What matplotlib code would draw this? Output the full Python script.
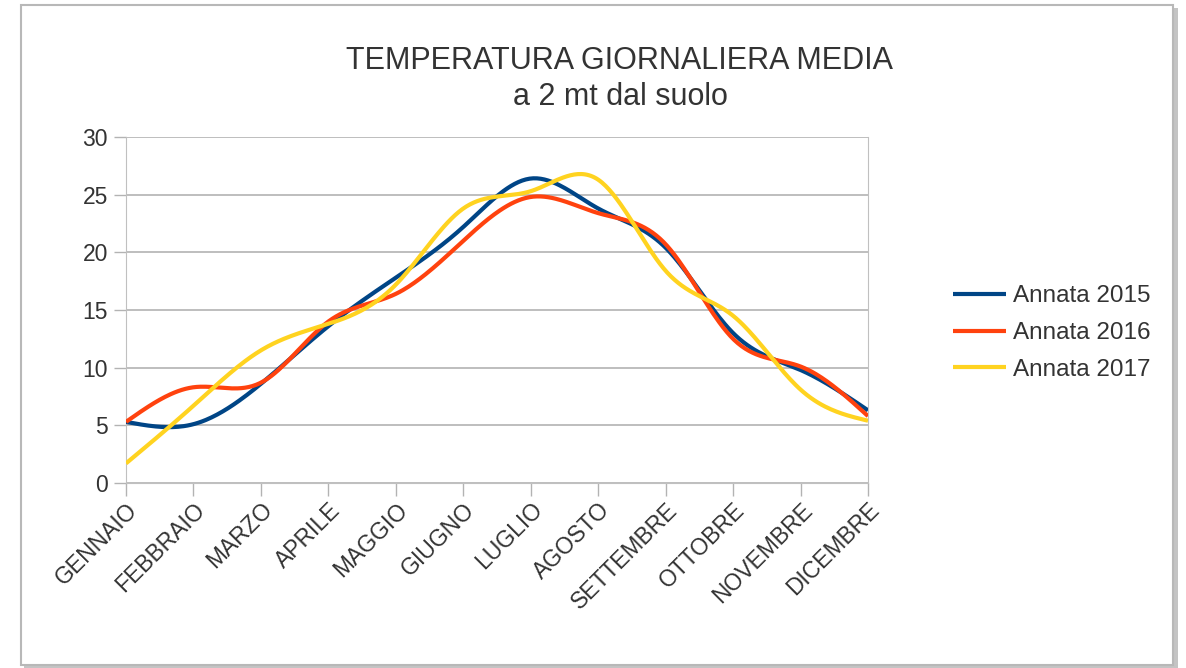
import numpy as np
import matplotlib
matplotlib.use("Agg")
import matplotlib.pyplot as plt
from matplotlib.patches import Rectangle

months = ["GENNAIO", "FEBBRAIO", "MARZO", "APRILE", "MAGGIO", "GIUGNO",
          "LUGLIO", "AGOSTO", "SETTEMBRE", "OTTOBRE", "NOVEMBRE", "DICEMBRE"]
t2015 = [5.3, 5.1, 8.6, 13.6, 17.8, 22.2, 26.4, 23.8, 20.4, 13.0, 9.8, 6.3]
t2016 = [5.3, 8.3, 8.7, 14.0, 16.4, 21.0, 24.8, 23.4, 20.7, 12.5, 10.1, 5.8]
t2017 = [1.7, 6.7, 11.5, 13.8, 17.2, 23.8, 25.3, 26.3, 18.4, 14.5, 8.1, 5.4]
series_names = ["Annata 2015", "Annata 2016", "Annata 2017"]
colors = ["#004586", "#ff420e", "#ffd320"]
yticks = [0, 5, 10, 15, 20, 25, 30]
title = "TEMPERATURA GIORNALIERA MEDIA\na 2 mt dal suolo"


def natural_spline(x, y, n=400):
    x = np.asarray(x, float)
    y = np.asarray(y, float)
    m = len(x)
    h = np.diff(x)
    A = np.zeros((m, m))
    b = np.zeros(m)
    A[0, 0] = 1
    A[-1, -1] = 1
    for i in range(1, m - 1):
        A[i, i - 1] = h[i - 1]
        A[i, i] = 2 * (h[i - 1] + h[i])
        A[i, i + 1] = h[i]
        b[i] = 3 * ((y[i + 1] - y[i]) / h[i] - (y[i] - y[i - 1]) / h[i - 1])
    c = np.linalg.solve(A, b)
    xs = np.linspace(x[0], x[-1], n)
    idx = np.clip(np.searchsorted(x, xs) - 1, 0, m - 2)
    dx = xs - x[idx]
    bb = (y[1:] - y[:-1]) / h - h * (2 * c[:-1] + c[1:]) / 3
    d = (c[1:] - c[:-1]) / (3 * h)
    ys = y[idx] + bb[idx] * dx + c[idx] * dx ** 2 + d[idx] * dx ** 3
    return xs, ys


plt.rcParams['font.family'] = ['Liberation Sans', 'DejaVu Sans']
fig = plt.figure(figsize=(11.86, 6.68), dpi=100)

# outer frame with shadow
fig.patches.append(Rectangle((24 / 1186, 0), 1154 / 1186, 660 / 668,
                             transform=fig.transFigure, facecolor="#c4c4c4",
                             edgecolor="none", zorder=-3))
fig.patches.append(Rectangle((21 / 1186, 3 / 668), 1152 / 1186, 660 / 668,
                             transform=fig.transFigure, facecolor="white",
                             edgecolor="#b8b8b8", linewidth=1.5, zorder=-2))

ax = fig.add_axes([126 / 1186, 1 - 483 / 668, 742 / 1186, 346 / 668])
ax.patch.set_alpha(0)
x = np.arange(len(months))
for vals, name, col in zip([t2015, t2016, t2017], series_names, colors):
    xs, ys = natural_spline(x, vals)
    ax.plot(xs, ys, color=col, lw=3.0, label=name, solid_capstyle="butt", zorder=3)

ax.set_xlim(0, len(months) - 1)
ax.set_ylim(0, 30)
ax.set_yticks(yticks)
ax.set_xticks(x)
ax.set_xticklabels(months, rotation=45, ha="right", va="top",
                   rotation_mode="anchor", fontsize=16.5, color="#333333")
ax.tick_params(axis="y", labelsize=16.5, colors="#b3b3b3", labelcolor="#333333",
               length=9, width=1, pad=4)
ax.tick_params(axis="x", colors="#b3b3b3", labelcolor="#333333", length=9,
               width=1, pad=2)
ax.grid(axis="y", color="#b3b3b3", lw=1.2)
ax.set_axisbelow(True)
for s in ["top"]:
    ax.spines[s].set_visible(False)
for s in ["left", "bottom", "right"]:
    ax.spines[s].set_color("#c0c0c0")

fig.text(620 / 1186, 1 - 79 / 668, title, ha="center", va="center",
         fontsize=22, color="#333333", linespacing=1.25)

leg = ax.legend(loc="center left", bbox_to_anchor=(953 / 1186, 1 - 333 / 668),
                bbox_transform=fig.transFigure, frameon=False, fontsize=17.5,
                handlelength=2.2, handletextpad=0.25, labelspacing=0.6,
                borderaxespad=0, borderpad=0)
for t in leg.get_texts():
    t.set_color("#333333")

fig.savefig("out.png", dpi=100)
